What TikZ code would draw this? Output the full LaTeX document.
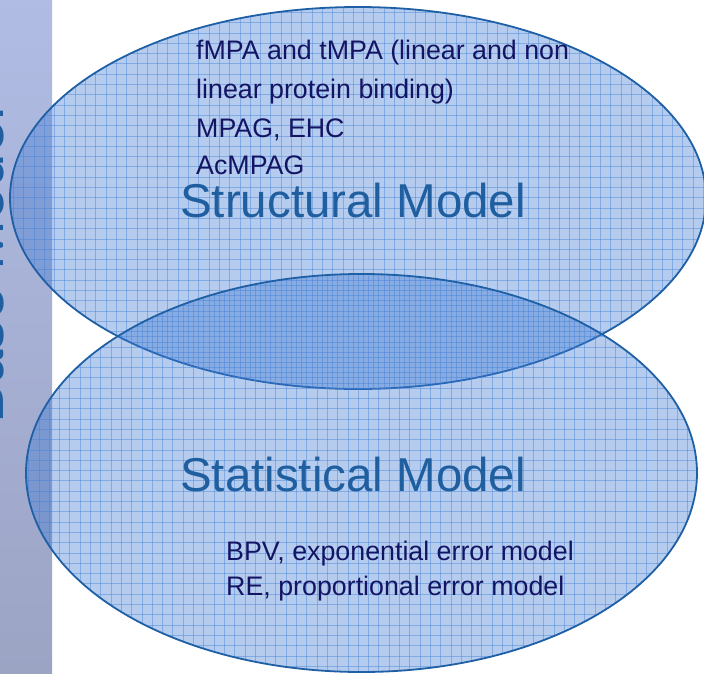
\documentclass[tikz,border=0pt]{standalone}
\usepackage{fontspec}
\setmainfont{Liberation Sans}
\definecolor{ellfill}{RGB}{60,120,210}
\definecolor{edgeblue}{RGB}{30,95,165}
\definecolor{gridblue}{RGB}{70,130,215}
\definecolor{navytext}{RGB}{20,20,100}
\definecolor{titleblue}{RGB}{31,95,160}
\definecolor{barTop}{RGB}{176,188,228}
\definecolor{barMid}{RGB}{198,210,252}
\definecolor{barBot}{RGB}{156,164,196}
\tikzset{
  ellbody/.style={fill=ellfill, fill opacity=0.38},
  ellgrid/.style={draw=gridblue, opacity=0.45, line width=0.8pt},
  elledge/.style={draw=edgeblue, line width=1.8pt},
  smalltext/.style={anchor=base west, inner sep=0pt, text=navytext, font=\fontsize{26.8}{26.8}\selectfont},
  bigtext/.style={anchor=base west, inner sep=0pt, text=titleblue, font=\fontsize{47.5}{47.5}\selectfont}
}
\begin{document}
\begin{tikzpicture}[x=1pt,y=-1pt]
\useasboundingbox (0,0) rectangle (704,673);
% left bar
\shade[top color=barTop, middle color=barMid, bottom color=barBot] (0,0) rectangle (52,673);
\begin{scope}
  \clip (0,0) rectangle (52,673);
  \node[rotate=90, anchor=base west, inner sep=0pt, text=titleblue, font=\fontsize{60}{60}\selectfont] (basetxt) at (3.5,424) {Base Model};
\end{scope}
% top ellipse
\path[ellbody] (358,198) ellipse [x radius=348pt, y radius=191pt];
\begin{scope}
  \clip (358,198) ellipse [x radius=348pt, y radius=191pt];
  \foreach \g in {3,13.3,...,710} {\draw[ellgrid] (\g,0) -- (\g,673);}
  \foreach \g in {2,12.3,...,680} {\draw[ellgrid] (0,\g) -- (704,\g);}
\end{scope}
\draw[elledge] (358,198) ellipse [x radius=348pt, y radius=191pt];
% bottom ellipse
\path[ellbody] (361.5,473) ellipse [x radius=335.5pt, y radius=199pt];
\begin{scope}
  \clip (361.5,473) ellipse [x radius=335.5pt, y radius=199pt];
  \foreach \g in {8,18.3,...,710} {\draw[ellgrid] (\g,0) -- (\g,673);}
  \foreach \g in {7,17.3,...,680} {\draw[ellgrid] (0,\g) -- (704,\g);}
\end{scope}
\draw[elledge] (361.5,473) ellipse [x radius=335.5pt, y radius=199pt];
% texts
\node[smalltext] (l1) at (196,59) {fMPA and tMPA (linear and non};
\node[smalltext] (l2) at (196,98) {linear protein binding)};
\node[smalltext] (l3) at (196,137) {MPAG, EHC};
\node[smalltext] (l4) at (196,174) {AcMPAG};
\node[bigtext] (structural) at (180,217) {Structural Model};
\node[bigtext] (statistical) at (180,491) {Statistical Model};
\node[smalltext] (b1) at (226,560) {BPV, exponential error model};
\node[smalltext] (b2) at (226,595) {RE, proportional error model};
\end{tikzpicture}
\end{document}
